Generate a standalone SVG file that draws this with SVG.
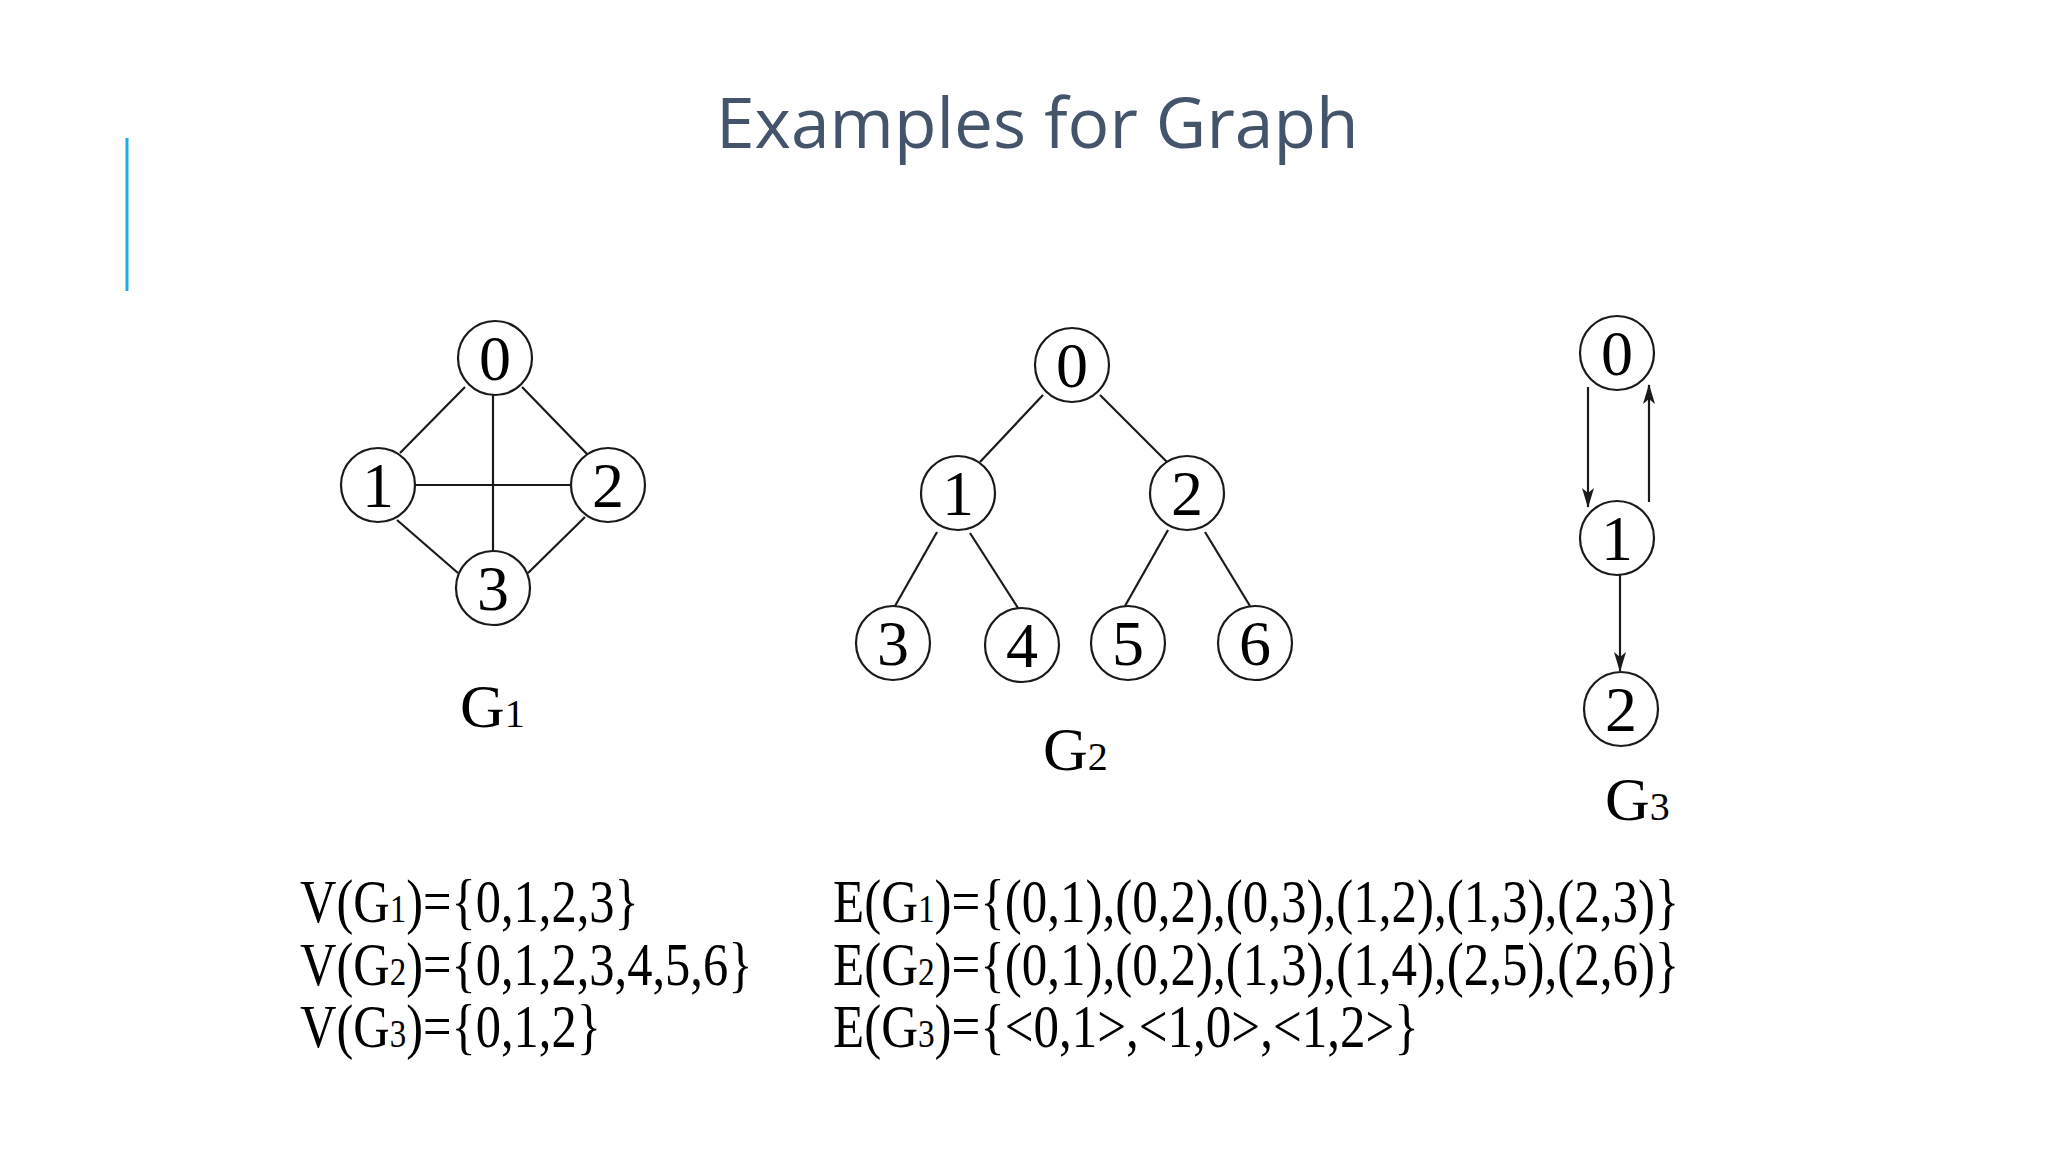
<svg xmlns="http://www.w3.org/2000/svg" width="2048" height="1152" viewBox="0 0 2048 1152">
  <style>
    .title { font-family: "Open Sans", "Noto Sans", sans-serif; font-size: 69.5px; fill: #44546A; }
    .edge { stroke: #1a1a1a; stroke-width: 2.2; fill: none; }
    .arrow { stroke: #1a1a1a; stroke-width: 2.2; fill: none; marker-end: url(#ah); }
    .node circle { fill: #ffffff; stroke: #1a1a1a; stroke-width: 2.2; }
    .node text { font-family: "Liberation Serif", "Times New Roman", serif; font-size: 64px; fill: #000; text-anchor: middle; }
    .glabel { font-family: "Liberation Serif", "Times New Roman", serif; font-size: 62px; fill: #000; }
    .sub { font-size: 40px; }
    .set { font-family: "Liberation Serif", "Times New Roman", serif; font-size: 50.5px; fill: #000; }
    .setsub { font-size: 33px; }
  </style>
  <defs>
    <marker id="ah" markerUnits="userSpaceOnUse" markerWidth="20" markerHeight="12" refX="19" refY="6" viewBox="0 0 20 12" orient="auto">
      <path d="M0,0 L20,6 L0,12 L5,6 z" fill="#1a1a1a"/>
    </marker>
  </defs>
  <rect width="2048" height="1152" fill="#ffffff"/>

  <line x1="127" y1="138" x2="127" y2="291" stroke="#1CADE4" stroke-width="3"/>
  <text class="title" x="716" y="148">Examples for Graph</text>

  <g id="connectors">
    <!-- G1 -->
    <line class="edge" x1="465" y1="387" x2="400" y2="453"/>
    <line class="edge" x1="522" y1="387" x2="587" y2="454"/>
    <line class="edge" x1="493" y1="395" x2="493" y2="551"/>
    <line class="edge" x1="415" y1="485" x2="571" y2="485"/>
    <line class="edge" x1="397" y1="520" x2="458" y2="573"/>
    <line class="edge" x1="585" y1="517" x2="528" y2="573"/>
    <!-- G2 -->
    <line class="edge" x1="1043" y1="395" x2="980" y2="462"/>
    <line class="edge" x1="1100" y1="395" x2="1168" y2="463"/>
    <line class="edge" x1="937" y1="532" x2="895" y2="606"/>
    <line class="edge" x1="970" y1="533" x2="1018" y2="608"/>
    <line class="edge" x1="1168" y1="530" x2="1125" y2="606"/>
    <line class="edge" x1="1205" y1="532" x2="1250" y2="606"/>
    <!-- G3 -->
    <line class="arrow" x1="1588" y1="387" x2="1588" y2="507"/>
    <line class="arrow" x1="1649" y1="502" x2="1649" y2="385"/>
    <line class="arrow" x1="1620" y1="575" x2="1620" y2="671"/>
  </g>

  <g id="g1-n0" class="node"><circle cx="495" cy="358" r="37"/><text x="495" y="380">0</text></g>
  <g id="g1-n1" class="node"><circle cx="378" cy="485" r="37"/><text x="378" y="507">1</text></g>
  <g id="g1-n2" class="node"><circle cx="608" cy="485" r="37"/><text x="608" y="507">2</text></g>
  <g id="g1-n3" class="node"><circle cx="493" cy="588" r="37"/><text x="493" y="610">3</text></g>
  <text id="g1-label" class="glabel" x="460" y="727">G<tspan class="sub">1</tspan></text>

  <g id="g2-n0" class="node"><circle cx="1072" cy="365" r="37"/><text x="1072" y="387">0</text></g>
  <g id="g2-n1" class="node"><circle cx="958" cy="493" r="37"/><text x="958" y="515">1</text></g>
  <g id="g2-n2" class="node"><circle cx="1187" cy="493" r="37"/><text x="1187" y="515">2</text></g>
  <g id="g2-n3" class="node"><circle cx="893" cy="643" r="37"/><text x="893" y="665">3</text></g>
  <g id="g2-n4" class="node"><circle cx="1022" cy="645" r="37"/><text x="1022" y="667">4</text></g>
  <g id="g2-n5" class="node"><circle cx="1128" cy="643" r="37"/><text x="1128" y="665">5</text></g>
  <g id="g2-n6" class="node"><circle cx="1255" cy="643" r="37"/><text x="1255" y="665">6</text></g>
  <text id="g2-label" class="glabel" x="1043" y="770">G<tspan class="sub">2</tspan></text>

  <g id="g3-n0" class="node"><circle cx="1617" cy="353" r="37"/><text x="1617" y="375">0</text></g>
  <g id="g3-n1" class="node"><circle cx="1617" cy="538" r="37"/><text x="1617" y="560">1</text></g>
  <g id="g3-n2" class="node"><circle cx="1621" cy="709" r="37"/><text x="1621" y="731">2</text></g>
  <text id="g3-label" class="glabel" x="1605" y="820">G<tspan class="sub">3</tspan></text>

  <g id="sets">
    <text class="set" transform="translate(300,922) scale(1,1.2)">V(G<tspan class="setsub">1</tspan>)={0,1,2,3}</text>
    <text class="set" transform="translate(300,985) scale(1,1.2)">V(G<tspan class="setsub">2</tspan>)={0,1,2,3,4,5,6}</text>
    <text class="set" transform="translate(300,1047) scale(1,1.2)">V(G<tspan class="setsub">3</tspan>)={0,1,2}</text>
    <text class="set" transform="translate(833,922) scale(1.01,1.2)">E(G<tspan class="setsub">1</tspan>)={(0,1),(0,2),(0,3),(1,2),(1,3),(2,3)}</text>
    <text class="set" transform="translate(833,985) scale(1.01,1.2)">E(G<tspan class="setsub">2</tspan>)={(0,1),(0,2),(1,3),(1,4),(2,5),(2,6)}</text>
    <text class="set" transform="translate(833,1047) scale(1.01,1.2)">E(G<tspan class="setsub">3</tspan>)={&lt;0,1&gt;,&lt;1,0&gt;,&lt;1,2&gt;}</text>
  </g>
</svg>
